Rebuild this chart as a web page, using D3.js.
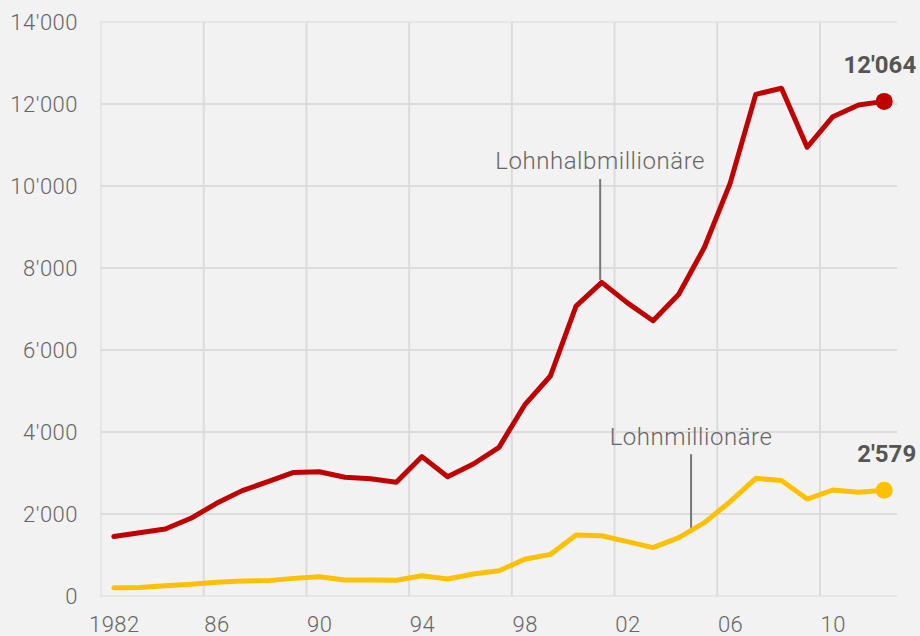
<!DOCTYPE html>
<html lang="de">
<head>
  <meta charset="UTF-8">
  <title>Lohnmillionäre</title>
  <script src="https://d3js.org/d3.v7.min.js"></script>
  <style>
    html, body {
      margin: 0;
      padding: 0;
      background: #f2f2f2;
    }
    svg {
      display: block;
      width: 920px;
      height: 636px;
      font-family: Roboto, "Liberation Sans", sans-serif;
    }
  </style>
</head>
<body>
  <svg></svg>

  <script>
    const years = [1982, 1983, 1984, 1985, 1986, 1987, 1988, 1989, 1990, 1991,
      1992, 1993, 1994, 1995, 1996, 1997, 1998, 1999, 2000, 2001,
      2002, 2003, 2004, 2005, 2006, 2007, 2008, 2009, 2010, 2011, 2012];

    // Lohnhalbmillionäre (Lohn > 500'000)
    const halbMio = [1450, 1545, 1635, 1895, 2260, 2570, 2790, 3015, 3030, 2895,
      2860, 2775, 3400, 2910, 3220, 3625, 4660, 5365, 7070, 7650,
      7150, 6715, 7360, 8505, 10065, 12235, 12385, 10945, 11690, 11975, 12064];

    // Lohnmillionäre (Lohn > 1 Mio.)
    const mio = [200, 205, 250, 285, 335, 365, 375, 430, 470, 390,
      390, 385, 495, 415, 535, 615, 895, 1015, 1490, 1470,
      1325, 1180, 1425, 1790, 2300, 2870, 2815, 2365, 2585, 2530, 2579];

    const xTickYears = [1982, 1986, 1990, 1994, 1998, 2002, 2006, 2010];
    const xTickLabels = [`1982`, `86`, `90`, `94`, `98`, `02`, `06`, `10`];
    const yTicks = [0, 2000, 4000, 6000, 8000, 10000, 12000, 14000];

    // annotation: label, x (in years), label baseline, line top, line bottom (values)
    const notes = [
      {label: `Lohnhalbmillionäre`, year: 2001.44, text: 10415, top: 10170, bottom: 7710},
      {label: `Lohnmillionäre`, year: 2004.98, text: 3680, top: 3460, bottom: 1660},
    ];

    const series = [
      {name: `halbMio`, values: halbMio, color: `#c00000`},
      {name: `mio`, values: mio, color: `#ffc000`},
    ];

    const margin = {top: 22, right: 23, bottom: 40, left: 101};
    const width = 920;
    const height = 636;

    const ch = d3.formatLocale({decimal: `.`, thousands: `'`, grouping: [3], currency: [``, ``]});
    const fmt = ch.format(`,`);

    const x = d3.scaleLinear()
      .domain([1982, 2013])
      .range([margin.left, width - margin.right]);

    const y = d3.scaleLinear()
      .domain([0, 14000])
      .range([height - margin.bottom, margin.top]);

    const svg = d3.select(`svg`);

    // frame
    svg.append(`path`)
      .attr(`d`, `M${x(2013)},${y(14000)}H${x(1982)}V${y(0)}H${x(2013)}`)
      .attr(`fill`, `none`)
      .attr(`stroke`, `#e6e6e6`)
      .attr(`stroke-width`, 2);

    // grid
    svg.append(`g`)
      .selectAll(`line`)
      .data(yTicks.slice(1, -1))
      .join(`line`)
      .attr(`x1`, x(1982))
      .attr(`x2`, x(2013))
      .attr(`y1`, d => y(d))
      .attr(`y2`, d => y(d))
      .attr(`stroke`, `#dcdcdc`)
      .attr(`stroke-width`, 2);

    svg.append(`g`)
      .selectAll(`line`)
      .data(xTickYears.slice(1))
      .join(`line`)
      .attr(`x1`, d => x(d))
      .attr(`x2`, d => x(d))
      .attr(`y1`, y(14000))
      .attr(`y2`, y(0))
      .attr(`stroke`, `#dcdcdc`)
      .attr(`stroke-width`, 2);

    // axes
    const yAxis = d3.axisLeft(y)
      .tickValues(yTicks)
      .tickFormat(fmt)
      .tickSize(0)
      .tickPadding(23);

    const yG = svg.append(`g`)
      .attr(`transform`, `translate(${margin.left}, 0)`)
      .call(yAxis);

    const xAxis = d3.axisBottom(x)
      .tickValues(xTickYears)
      .tickFormat((d, i) => xTickLabels[i])
      .tickSize(0)
      .tickPadding(20);

    const halfYear = (x(1983) - x(1982)) / 2;
    const xG = svg.append(`g`)
      .attr(`transform`, `translate(${halfYear}, ${height - margin.bottom})`)
      .call(xAxis);

    [yG, xG].forEach(g => {
      g.select(`.domain`).remove();
      g.selectAll(`text`)
        .attr(`fill`, `#666`)
        .style(`font-size`, `22px`)
        .style(`font-weight`, 300)
        .style(`letter-spacing`, `0.5px`)
        .style(`font-family`, `Roboto, sans-serif`);
    });
    yG.selectAll(`text`).attr(`dy`, `0.35em`);

    // annotations
    const ann = svg.append(`g`);
    ann.selectAll(`line`)
      .data(notes)
      .join(`line`)
      .attr(`x1`, d => x(d.year))
      .attr(`x2`, d => x(d.year))
      .attr(`y1`, d => y(d.top))
      .attr(`y2`, d => y(d.bottom))
      .attr(`stroke`, `#777`)
      .attr(`stroke-width`, 2);

    ann.selectAll(`text`)
      .data(notes)
      .join(`text`)
      .attr(`x`, d => x(d.year))
      .attr(`y`, d => y(d.text))
      .attr(`text-anchor`, `middle`)
      .attr(`fill`, `#666`)
      .style(`font-size`, `24px`)
      .style(`font-weight`, 300)
      .style(`letter-spacing`, `0.55px`)
      .text(d => d.label);

    // lines
    const line = d3.line()
      .x((d, i) => x(years[i] + 0.5))
      .y(d => y(d));

    svg.append(`g`)
      .selectAll(`path`)
      .data(series)
      .join(`path`)
      .attr(`d`, d => line(d.values))
      .attr(`fill`, `none`)
      .attr(`stroke`, d => d.color)
      .attr(`stroke-width`, 5)
      .attr(`stroke-linejoin`, `round`)
      .attr(`stroke-linecap`, `round`);

    // end points
    const last = years.length - 1;
    const ends = svg.append(`g`)
      .selectAll(`g`)
      .data(series)
      .join(`g`)
      .attr(`transform`, d => `translate(${x(years[last] + 0.5)}, ${y(d.values[last])})`);

    ends.append(`circle`)
      .attr(`r`, 8.5)
      .attr(`fill`, d => d.color);

    ends.append(`text`)
      .attr(`x`, 32)
      .attr(`y`, -28)
      .attr(`text-anchor`, `end`)
      .attr(`fill`, `#555`)
      .style(`font-size`, `24px`)
      .style(`font-weight`, 700)
      .text(d => fmt(d.values[last]));
  </script>
</body>
</html>
